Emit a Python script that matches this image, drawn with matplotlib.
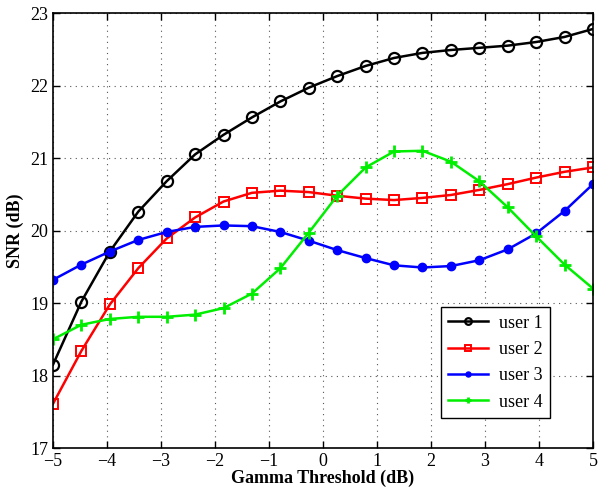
import numpy as np
import matplotlib
matplotlib.use('Agg')
import matplotlib.pyplot as plt

plt.rcParams['font.family'] = ['Liberation Serif', 'DejaVu Serif']
plt.rcParams['mathtext.fontset'] = 'stix'

gamma = np.linspace(-5, 5, 20)

user1 = [18.15, 19.02, 19.71, 20.26, 20.68, 21.05, 21.32, 21.56, 21.78, 21.97,
         22.13, 22.27, 22.38, 22.45, 22.49, 22.52, 22.55, 22.60, 22.67, 22.78]
user2 = [17.61, 18.34, 18.98, 19.48, 19.89, 20.18, 20.40, 20.52, 20.55, 20.53,
         20.48, 20.44, 20.42, 20.45, 20.49, 20.56, 20.64, 20.73, 20.81, 20.87]
user3 = [19.32, 19.53, 19.71, 19.87, 19.98, 20.05, 20.07, 20.06, 19.98, 19.86,
         19.73, 19.62, 19.52, 19.49, 19.51, 19.59, 19.74, 19.96, 20.27, 20.64]
user4 = [18.50, 18.70, 18.78, 18.81, 18.81, 18.84, 18.93, 19.13, 19.48, 19.97,
         20.48, 20.87, 21.09, 21.10, 20.95, 20.68, 20.32, 19.92, 19.53, 19.20]

fig = plt.figure(figsize=(5.98, 4.95), dpi=100)
ax = fig.add_axes([0.0886, 0.0949, 0.9030, 0.8788])

ax.plot(gamma, user1, '-o', color='black', lw=1.8, ms=8, mfc='none', mew=1.6, label='user 1')
ax.plot(gamma, user2, '-s', color='red', lw=1.8, ms=7, mfc='none', mew=1.4, label='user 2')
ax.plot(gamma, user3, '-o', color='blue', lw=1.8, ms=6, label='user 3')
ax.plot(gamma, user4, '-+', color='#00ee00', lw=1.8, ms=8, mew=2, label='user 4')

ax.set_xlim(-5, 5)
ax.set_ylim(17, 23)
ax.set_xticks(np.arange(-5, 6, 1))
ax.set_yticks(np.arange(17, 24, 1))
ax.set_xticklabels(['\u22125', '\u22124', '\u22123', '\u22122', '\u22121', '0', '1', '2', '3', '4', '5'])
ax.tick_params(direction='in', top=True, right=True, labelsize=13, length=5, width=1)
ax.grid(True, linestyle=(0, (1, 4)), color='#555555', lw=0.8)
for s in ax.spines.values():
    s.set_linewidth(1.2)

ax.set_xlabel('Gamma Threshold (dB)', fontsize=13, fontweight='bold', labelpad=0)
ax.set_ylabel('SNR (dB)', fontsize=13, fontweight='bold', labelpad=4)

leg = ax.legend(loc='lower right', bbox_to_anchor=(0.92, 0.069), fontsize=13,
                fancybox=False, edgecolor='black', framealpha=1, handlelength=2.2,
                borderaxespad=0, labelspacing=0.52, markerscale=0.6, handletextpad=0.6)
leg.get_frame().set_linewidth(1.0)

fig.savefig('out.png', dpi=100)
